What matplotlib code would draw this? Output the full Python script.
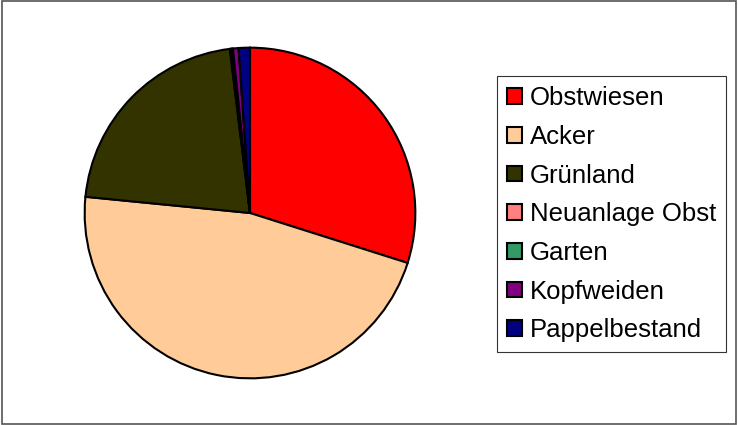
import matplotlib.pyplot as plt
from matplotlib.patches import Rectangle

# land use shares (percent)
labels = ['Obstwiesen', 'Acker', 'Grünland', 'Neuanlage Obst', 'Garten', 'Kopfweiden', 'Pappelbestand']
shares = [29.9, 46.7, 21.5, 0.15, 0.15, 0.55, 1.1]
colors = ['#ff0000', '#ffcc99', '#333300', '#ff8080', '#339966', '#800080', '#000080']

plt.rcParams['font.family'] = ['Liberation Sans', 'DejaVu Sans']

fig = plt.figure(figsize=(7.38, 4.25), dpi=100)
fig.patch.set_facecolor('white')

# pie area
ax = fig.add_axes([83 / 738, 45 / 425, 334 / 738, 334 / 425])
wedges, _ = ax.pie(shares, colors=colors, startangle=90, counterclock=False,
                   wedgeprops=dict(edgecolor='black', linewidth=1.5))
ax.set_xlim(-1.01, 1.01)
ax.set_ylim(-1.01, 1.01)

leg = fig.legend(wedges, labels, loc='upper left',
                 bbox_to_anchor=(497 / 738, 1 - 76 / 425),
                 fontsize=18.5, frameon=True, fancybox=False,
                 handlelength=0.56, handleheight=0.56, handletextpad=0.32,
                 labelspacing=0.57, borderpad=0.4, borderaxespad=0)
leg.get_frame().set_edgecolor('black')
leg.get_frame().set_linewidth(0.8)
for h in leg.legend_handles:
    h.set_linewidth(1.5)

# outer chart border
fig.patches.append(Rectangle((0.003, 0.003), 0.994, 0.994, transform=fig.transFigure,
                             fill=False, edgecolor='#555555', linewidth=1.2))

fig.savefig('out.png', dpi=100)
